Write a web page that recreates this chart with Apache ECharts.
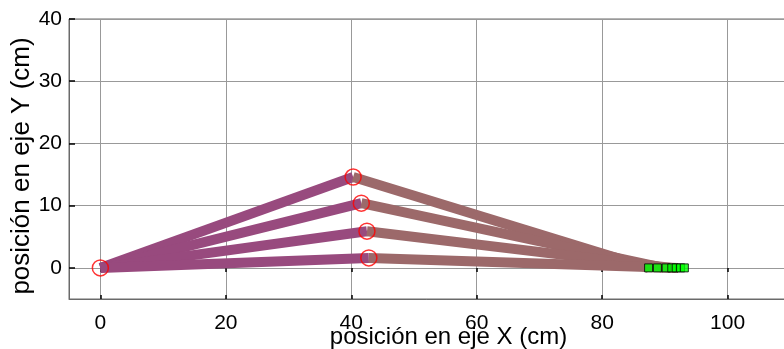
<!DOCTYPE html>
<html>
<head>
<meta charset="utf-8">
<script src="https://cdn.jsdelivr.net/npm/echarts@6/dist/echarts.min.js"></script>
<style>html,body{margin:0;padding:0;background:#fff;}#c{width:784px;height:349px;}</style>
</head>
<body>
<div id="c"></div>
<script>
// Data
var xTicks = [0, 20, 40, 60, 80, 100];
var yTicks = [0, 10, 20, 30, 40];
var originX = 0, originY = 0;
var jointX = [40.3, 41.6, 42.5, 42.8];
var jointY = [14.6, 10.4, 5.9, 1.6];
var sliderEndX = [87.4, 89.8, 91.1, 92.1];
var sliderMarksX = [87.4, 88.8, 90.2, 91.1, 91.8, 92.5, 93.1];
var sliderMarksY = [0, 0, 0, 0, 0, 0, 0];

var FONT = '"Liberation Sans", Arial, sans-serif';
var series = [];
var leftColor = 'rgb(152,74,126)';
var rightColor = 'rgb(156,105,106)';
for (var i = 0; i < jointX.length; i++) {
  series.push({
    type: 'line', symbol: 'none', silent: true, animation: false,
    lineStyle: { color: leftColor, width: 10, cap: 'butt' },
    data: [[originX, originY], [jointX[i], jointY[i]]]
  });
}
for (var i = 0; i < jointX.length; i++) {
  series.push({
    type: 'line', symbol: 'none', silent: true, animation: false,
    lineStyle: { color: rightColor, width: 10, cap: 'butt' },
    data: [[jointX[i], jointY[i]], [sliderEndX[i], 0]]
  });
}
var joints = [[originX, originY]];
for (var i = 0; i < jointX.length; i++) joints.push([jointX[i], jointY[i]]);
series.push({
  type: 'scatter', symbol: 'circle', symbolSize: 16, animation: false,
  itemStyle: { color: 'rgba(0,0,0,0)', borderColor: '#ff0000', borderWidth: 1.5 },
  data: joints, z: 5
});
series.push({
  type: 'scatter', symbol: 'rect', symbolSize: 8, animation: false,
  itemStyle: { color: '#00ff00', borderColor: '#000', borderWidth: 1 },
  data: sliderMarksX.map(function (x, k) { return [x, sliderMarksY[k]]; }), z: 6
});

var chart = echarts.init(document.getElementById('c'), null, { renderer: 'canvas' });
chart.setOption({
  animation: false,
  backgroundColor: '#fff',
  grid: { left: 69, top: 19, bottom: 50, right: -44, containLabel: false, outerBoundsMode: 'none',
          show: true, borderColor: '#6a6a6a', borderWidth: 1 },
  xAxis: [{
    type: 'value', min: -5, max: 116, position: 'bottom',
    name: 'posición en eje X (cm)', nameLocation: 'middle', nameGap: 26, nameMoveOverlap: false,
    nameTextStyle: { fontFamily: FONT, fontSize: 24, color: '#000' },
    axisLine: { show: true, onZero: false, lineStyle: { color: '#6a6a6a' } },
    axisTick: { show: true, inside: true, length: 4, customValues: xTicks, lineStyle: { color: '#000', width: 1.5 } },
    axisLabel: { customValues: xTicks, fontFamily: FONT, fontSize: 21, color: '#000', margin: 14 },
    splitLine: { show: true, lineStyle: { color: '#999', width: 1 } }
  }, {
    type: 'value', min: -5, max: 116, position: 'top',
    axisLine: { show: false },
    axisTick: { show: true, inside: true, length: 4, customValues: xTicks, lineStyle: { color: '#000', width: 1.5 } },
    axisLabel: { show: false },
    splitLine: { show: false }
  }],
  yAxis: {
    type: 'value', min: -5, max: 40,
    name: 'posición en eje Y (cm)', nameLocation: 'middle', nameGap: 34, nameMoveOverlap: false,
    nameTextStyle: { fontFamily: FONT, fontSize: 26, color: '#000', padding: [0, 14, 0, 0] },
    axisLine: { show: true, onZero: false, lineStyle: { color: '#6a6a6a' } },
    axisTick: { show: true, inside: true, length: 6, customValues: yTicks, lineStyle: { color: '#000', width: 1.5 } },
    axisLabel: { customValues: yTicks, fontFamily: FONT, fontSize: 21, color: '#000', margin: 7 },
    splitLine: { show: true, lineStyle: { color: '#999', width: 1 } }
  },
  series: series
});
</script>
</body>
</html>
